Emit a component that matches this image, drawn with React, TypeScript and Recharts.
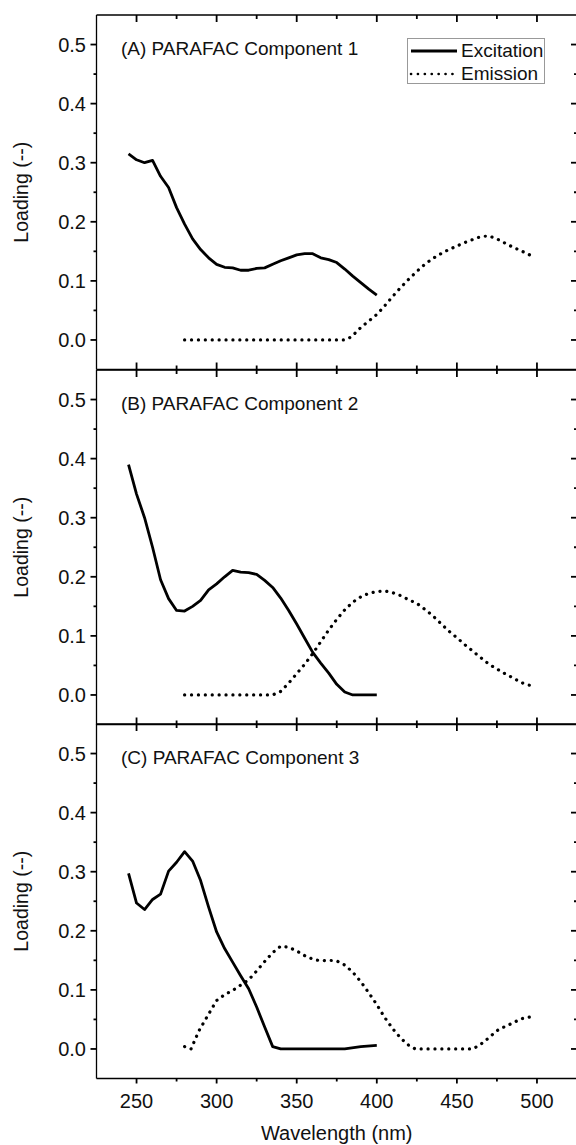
import React from "react";
import { Legend, Line, LineChart, XAxis, YAxis } from "recharts";

// values
const panelTitles = ["(A) PARAFAC Component 1", "(B) PARAFAC Component 2", "(C) PARAFAC Component 3"];
const xTicks = [250, 275, 300, 325, 350, 375, 400, 425, 450, 475, 500];
const yTicks = [0, 0.05, 0.1, 0.15, 0.2, 0.25, 0.3, 0.35, 0.4, 0.45, 0.5];
const xDomain = [225, 525];
const yDomain = [-0.05, 0.55];

const exNmA = [245, 250, 255, 260, 265, 270, 275, 280, 285, 290, 295, 300, 305, 310, 315, 320, 325, 330, 335, 340, 345, 350, 355, 360, 365, 370, 375, 380, 385, 390, 395, 400];
const exLoadA = [0.315, 0.305, 0.3, 0.304, 0.277, 0.258, 0.224, 0.196, 0.171, 0.153, 0.139, 0.128, 0.123, 0.122, 0.118, 0.118, 0.121, 0.122, 0.128, 0.134, 0.139, 0.144, 0.146, 0.146, 0.139, 0.136, 0.131, 0.12, 0.108, 0.097, 0.086, 0.076];
const emNmA = [280, 380, 384, 390, 395, 400, 405, 410, 415, 420, 425, 430, 435, 440, 445, 450, 455, 460, 465, 470, 475, 480, 485, 490, 497];
const emLoadA = [0, 0, 0.005, 0.021, 0.032, 0.043, 0.058, 0.074, 0.089, 0.103, 0.116, 0.128, 0.138, 0.146, 0.153, 0.159, 0.165, 0.17, 0.175, 0.176, 0.171, 0.164, 0.157, 0.151, 0.142];

const exNmB = [245, 250, 255, 260, 265, 270, 275, 280, 285, 290, 295, 300, 305, 310, 315, 320, 325, 330, 335, 340, 345, 350, 355, 360, 365, 370, 375, 380, 385, 400];
const exLoadB = [0.39, 0.34, 0.3, 0.25, 0.195, 0.163, 0.143, 0.142, 0.15, 0.16, 0.178, 0.188, 0.2, 0.211, 0.208, 0.207, 0.204, 0.194, 0.182, 0.164, 0.143, 0.12, 0.096, 0.072, 0.054, 0.037, 0.018, 0.005, 0, 0];
const emNmB = [280, 335, 340, 345, 350, 355, 360, 365, 370, 375, 380, 385, 390, 395, 400, 405, 410, 415, 420, 425, 430, 435, 440, 445, 450, 455, 460, 465, 470, 475, 480, 485, 490, 497];
const emLoadB = [0, 0, 0.006, 0.02, 0.036, 0.052, 0.07, 0.09, 0.11, 0.128, 0.144, 0.157, 0.166, 0.172, 0.175, 0.176, 0.173, 0.168, 0.161, 0.155, 0.145, 0.134, 0.121, 0.108, 0.097, 0.085, 0.074, 0.063, 0.052, 0.044, 0.036, 0.029, 0.021, 0.015];

const exNmC = [245, 250, 255, 260, 265, 270, 275, 280, 285, 290, 295, 300, 305, 310, 315, 320, 325, 330, 335, 340, 380, 390, 400];
const exLoadC = [0.297, 0.247, 0.236, 0.253, 0.262, 0.301, 0.316, 0.334, 0.318, 0.285, 0.24, 0.198, 0.17, 0.147, 0.124, 0.102, 0.071, 0.037, 0.004, 0, 0, 0.004, 0.006];
const emNmC = [280, 284, 289, 295, 300, 305, 310, 315, 320, 325, 330, 335, 340, 345, 350, 355, 360, 365, 370, 375, 380, 385, 390, 395, 400, 405, 410, 415, 420, 424, 460, 465, 470, 475, 480, 485, 490, 497];
const emLoadC = [0.004, 0, 0.031, 0.059, 0.082, 0.092, 0.099, 0.108, 0.117, 0.132, 0.148, 0.163, 0.174, 0.172, 0.166, 0.158, 0.152, 0.149, 0.15, 0.149, 0.142, 0.13, 0.114, 0.095, 0.075, 0.053, 0.034, 0.018, 0.006, 0, 0, 0.008, 0.019, 0.031, 0.038, 0.044, 0.051, 0.055];

const toPoints = (nm: number[], v: number[]) => nm.map((w, i) => ({ nm: w, loading: v[i] }));

const FONT = '"Liberation Sans", Arial, sans-serif';
const W = 590;
const LEFT = 96.5;
const RIGHT = 13;
const PLOT_TOP = 15;
const PLOT_H = 354.5;
const PLOT_BOTTOM = PLOT_TOP + PLOT_H;
const PLOT_W = W - LEFT - RIGHT;
const INK = "#000";
const TICK_W = 1.8;

const isMajorX = (v: number) => v % 50 === 0;
const isMajorY = (v: number) => Math.round(v * 100) % 10 === 0;
const xPos = (v: number) => LEFT + ((v - xDomain[0]) / (xDomain[1] - xDomain[0])) * PLOT_W;
const yPos = (v: number) => PLOT_TOP + ((yDomain[1] - v) / (yDomain[1] - yDomain[0])) * PLOT_H;

// tick labels (the axes' own tick slot)
const TickLabel = (p: any) => {
  const v = Number(p.payload?.value);
  const horiz = p.side === "bottom";
  const c = Number(p.payload?.coordinate ?? (horiz ? p.x : p.y));
  if (horiz && isMajorX(v))
    return (
      <text x={c} y={PLOT_BOTTOM + 29.3} textAnchor="middle" fontSize={20} fontFamily={FONT} fill="#111">
        {v}
      </text>
    );
  if (!horiz && isMajorY(v))
    return (
      <text x={86} y={c} dy="0.36em" textAnchor="end" fontSize={20} fontFamily={FONT} fill="#111">
        {v.toFixed(1)}
      </text>
    );
  return <g />;
};

const LegendBox = ({ payload }: any) => {
  // solid (excitation) entry first, as in the figure
  const items = [...(payload || [])].sort((a: any, b: any) => (a.payload?.strokeDasharray ? 1 : 0) - (b.payload?.strokeDasharray ? 1 : 0));
  return (
    <div style={{ border: "1px solid #999", width: 136, height: 44, background: "#fff", fontFamily: FONT, fontSize: 19, color: "#111" }}>
      {items.map((entry: any) => (
        <div key={entry.value} style={{ display: "flex", alignItems: "center", height: 23 }}>
          <svg width={50} height={10} style={{ marginLeft: 1 }}>
            <line
              x1={2}
              x2={48}
              y1={5}
              y2={5}
              stroke={INK}
              strokeWidth={entry.payload?.strokeDasharray ? 2.6 : 3}
              strokeDasharray={entry.payload?.strokeDasharray}
              strokeLinecap={entry.payload?.strokeDasharray ? "round" : "butt"}
            />
          </svg>
          <span style={{ marginLeft: 2, lineHeight: "23px" }}>{entry.value}</span>
        </div>
      ))}
    </div>
  );
};

// frame ticks, panel title, y-axis title and (bottom panel) x-axis title, laid over the chart
const Overlay = ({ title, height, last }: { title: string; height: number; last?: boolean }) => {
  const cy = PLOT_TOP + PLOT_H / 2;
  return (
    <svg width={W} height={height} style={{ position: "absolute", left: 0, top: 0, pointerEvents: "none" }}>
      <g stroke={INK} strokeWidth={TICK_W}>
        {xTicks.map((v) => {
          const x = xPos(v);
          const big = isMajorX(v);
          const inLen = big ? 7 : 4;
          const outLen = big ? 5 : 3;
          return (
            <g key={`x${v}`}>
              <line x1={x} x2={x} y1={PLOT_TOP} y2={PLOT_TOP + inLen} />
              {last ? (
                <line x1={x} x2={x} y1={PLOT_BOTTOM} y2={PLOT_BOTTOM + outLen} />
              ) : (
                <line x1={x} x2={x} y1={PLOT_BOTTOM} y2={PLOT_BOTTOM - inLen} />
              )}
            </g>
          );
        })}
        {yTicks.map((v) => {
          const y = yPos(v);
          const len = isMajorY(v) ? 6 : 3;
          return (
            <g key={`y${v}`}>
              <line x1={LEFT} x2={LEFT - len} y1={y} y2={y} />
              <line x1={W - RIGHT} x2={W - RIGHT - len} y1={y} y2={y} />
            </g>
          );
        })}
      </g>
      <text x={121} y={PLOT_TOP + 39.5} fontSize={19} fontFamily={FONT} fill="#111">
        {title}
      </text>
      <text x={21} y={cy} dy="0.36em" textAnchor="middle" transform={`rotate(-90, 21, ${cy})`} fontSize={19.5} fontFamily={FONT} fill="#111">
        Loading (--)
      </text>
      {last && (
        <text x={LEFT + PLOT_W / 2} y={PLOT_BOTTOM + 61.5} textAnchor="middle" fontSize={20} fontFamily={FONT} fill="#111">
          Wavelength (nm)
        </text>
      )}
    </svg>
  );
};

type PanelProps = { title: string; ex: any[]; em: any[]; top: number; last?: boolean; legend?: boolean };

const Panel = ({ title, ex, em, top, last, legend }: PanelProps) => {
  const height = last ? 436 : 380;
  const bottom = height - PLOT_TOP - PLOT_H;
  const axisLine = { stroke: INK, strokeWidth: 1.3 };
  // non-mirrored axes (left, bottom of last panel) take 1px of the margin
  const margin = { top: PLOT_TOP, right: RIGHT, bottom: last ? bottom - 1 : bottom, left: LEFT - 1 };
  return (
    <div style={{ position: "absolute", left: 0, top, width: W, height }}>
      <LineChart width={W} height={height} margin={margin}>
        <XAxis
          xAxisId="b"
          dataKey="nm"
          type="number"
          domain={xDomain}
          ticks={xTicks}
          interval={0}
          height={1}
          mirror={!last}
          stroke={INK}
          tickSize={0}
          tickMargin={0}
          tickLine={false}
          axisLine={axisLine}
          tick={last ? <TickLabel side="bottom" /> : false}
        />
        <XAxis
          xAxisId="t"
          orientation="top"
          type="number"
          domain={xDomain}
          ticks={xTicks}
          height={1}
          mirror
          stroke={INK}
          tickLine={false}
          axisLine={axisLine}
          tick={false}
        />
        <YAxis
          yAxisId="l"
          type="number"
          domain={yDomain}
          ticks={yTicks}
          interval={0}
          width={1}
          stroke={INK}
          tickSize={0}
          tickMargin={0}
          tickLine={false}
          axisLine={axisLine}
          tick={<TickLabel side="left" />}
        />
        <YAxis
          yAxisId="r"
          orientation="right"
          type="number"
          domain={yDomain}
          ticks={yTicks}
          width={1}
          mirror
          stroke={INK}
          tickLine={false}
          axisLine={axisLine}
          tick={false}
        />
        <Line
          xAxisId="b"
          yAxisId="l"
          data={ex}
          dataKey="loading"
          name="Excitation"
          type="linear"
          stroke={INK}
          strokeWidth={2.8}
          strokeLinejoin="round"
          dot={false}
          activeDot={false}
          isAnimationActive={false}
        />
        <Line
          xAxisId="b"
          yAxisId="l"
          data={em}
          dataKey="loading"
          name="Emission"
          type="linear"
          stroke={INK}
          strokeWidth={3.2}
          strokeDasharray="0.1 6.8"
          strokeLinecap="round"
          dot={false}
          activeDot={false}
          isAnimationActive={false}
        />
        {legend && (
          <Legend
            layout="vertical"
            align="center"
            verticalAlign="middle"
            wrapperStyle={{ left: 407, top: 38, width: 138, height: 46 }}
            content={<LegendBox />}
          />
        )}
      </LineChart>
      <Overlay title={title} height={height} last={last} />
    </div>
  );
}

export default function App() {
  return (
    <div style={{ position: "absolute", left: 0, top: 0, width: 576, height: 1145, overflow: "hidden", background: "#fff" }}>
      <Panel title={panelTitles[0]} ex={toPoints(exNmA, exLoadA)} em={toPoints(emNmA, emLoadA)} top={0} legend />
      <Panel title={panelTitles[1]} ex={toPoints(exNmB, exLoadB)} em={toPoints(emNmB, emLoadB)} top={PLOT_H} />
      <Panel title={panelTitles[2]} ex={toPoints(exNmC, exLoadC)} em={toPoints(emNmC, emLoadC)} top={PLOT_H * 2} last />
    </div>
  );
}
